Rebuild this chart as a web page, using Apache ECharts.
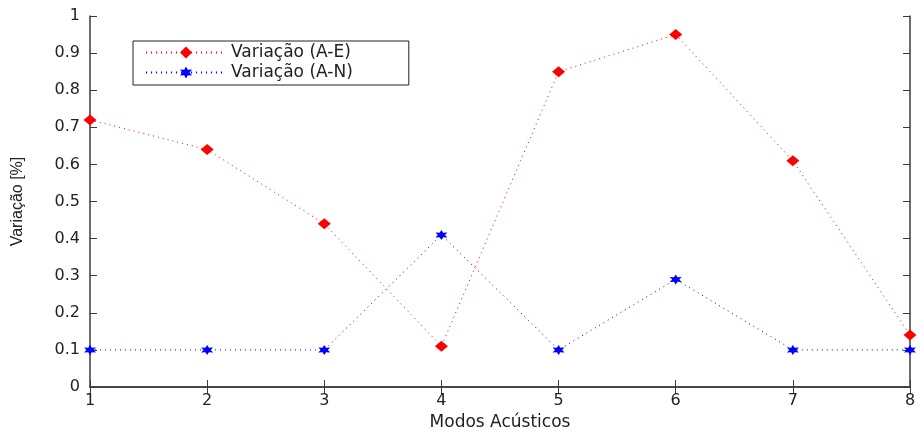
<!DOCTYPE html>
<html>
<head>
<meta charset="utf-8">
<script src="https://cdn.jsdelivr.net/npm/echarts@6/dist/echarts.min.js"></script>
<style>
  html, body { margin: 0; padding: 0; background: #fff; }
  #chart { width: 919px; height: 428px; }
</style>
</head>
<body>
<div id="chart"></div>
<script>
// dados
const modos = [1, 2, 3, 4, 5, 6, 7, 8];
const variacaoAE = [0.72, 0.64, 0.44, 0.11, 0.85, 0.95, 0.61, 0.14];
const variacaoAN = [0.10, 0.10, 0.10, 0.41, 0.10, 0.29, 0.10, 0.10];

const axisColor = '#3c3c3c';
const font = 'DejaVu Sans';
// estrela de 6 pontas (marcador "*")
const star = 'path://M0,-10 L2.6,-4.5 L8.7,-5 L5.2,0 L8.7,5 L2.6,4.5 L0,10 L-2.6,4.5 L-8.7,5 L-5.2,0 L-8.7,-5 L-2.6,-4.5 Z';

const pares = arr => modos.map((m, i) => [m, arr[i]]);

const chart = echarts.init(document.getElementById('chart'));
chart.setOption({
  animation: false,
  backgroundColor: '#fff',
  grid: { left: 90, right: 9, top: 16, bottom: 41, outerBoundsMode: 'none', containLabel: false },
  legend: {
    orient: 'vertical',
    left: 133, top: 41,
    padding: [3, 56, 4, 12],
    itemGap: 3,
    itemWidth: 80,
    itemHeight: 15,
    borderColor: '#222',
    borderWidth: 1,
    backgroundColor: '#fff',
    textStyle: { fontFamily: font, fontSize: 17, color: '#222' },
    data: ['Variação (A-E)', 'Variação (A-N)']
  },
  xAxis: [{
    type: 'value', min: 1, max: 8, interval: 1,
    name: 'Modos Acústicos', nameLocation: 'middle', nameGap: 19,
    nameTextStyle: { fontFamily: font, fontSize: 17, color: '#222' },
    axisLine: { lineStyle: { color: axisColor, width: 1.5 } },
    axisTick: { inside: true, length: 7, lineStyle: { color: axisColor } },
    axisLabel: { margin: 6, fontFamily: font, fontSize: 16, color: '#222' },
    splitLine: { show: false }
  }, {
    type: 'value', min: 1, max: 8, interval: 1, position: 'top',
    axisLine: { show: true, lineStyle: { color: axisColor, width: 1.5 } },
    axisTick: { inside: true, length: 7, lineStyle: { color: axisColor } },
    axisLabel: { show: false }, splitLine: { show: false }
  }],
  yAxis: [{
    type: 'value', min: 0, max: 1, interval: 0.1,
    name: 'Variação [%]', nameLocation: 'middle', nameGap: 64,
    nameTextStyle: { fontFamily: 'Liberation Sans', fontSize: 16, color: '#222' },
    axisLine: { show: true, lineStyle: { color: axisColor, width: 1.5 } },
    axisTick: { show: true, inside: true, length: 7, lineStyle: { color: axisColor } },
    axisLabel: { margin: 10, fontFamily: font, fontSize: 16, color: '#222' },
    splitLine: { show: false }
  }, {
    type: 'value', min: 0, max: 1, interval: 0.1, position: 'right',
    axisLine: { show: true, lineStyle: { color: axisColor, width: 1.5 } },
    axisTick: { show: true, inside: true, length: 7, lineStyle: { color: axisColor } },
    axisLabel: { show: false }, splitLine: { show: false }
  }],
  series: [{
    name: 'Variação (A-E)', type: 'line',
    data: pares(variacaoAE),
    symbol: 'diamond', symbolSize: [13, 11],
    itemStyle: { color: '#ff0000' },
    lineStyle: { color: '#ff0000', width: 1, type: [1, 4] }
  }, {
    name: 'Variação (A-N)', type: 'line',
    data: pares(variacaoAN),
    symbol: star, symbolSize: [12, 10],
    itemStyle: { color: '#0000ff' },
    lineStyle: { color: '#0000ff', width: 1, type: [1, 4] }
  }]
});
</script>
</body>
</html>
